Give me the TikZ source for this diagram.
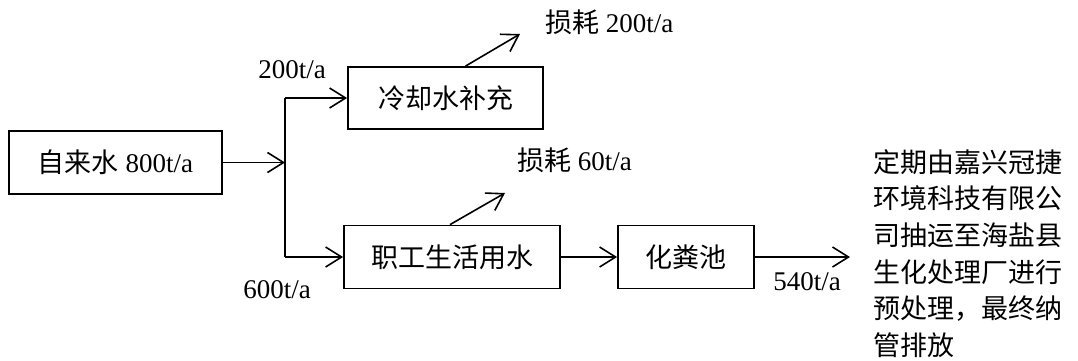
\documentclass[tikz,border=0pt]{standalone}
\usepackage{fontspec}
\setmainfont{Liberation Serif}
\newfontfamily\cjk{Noto Sans CJK SC}
\usetikzlibrary{arrows.meta}
\tikzset{
	flowbox/.style={draw, line width=1.8pt, inner sep=0pt, minimum height=63pt},
	flow/.style={line width=1.6pt, -{Straight Barb[length=16pt, width=20pt, line width=1.6pt]}},
	qty/.style={inner sep=0pt, font=\fontsize{27}{30}\selectfont}
}
\begin{document}
\begin{tikzpicture}[x=1pt, y=-1pt, font=\fontsize{27}{30}\selectfont]
		\useasboundingbox (0,0) rectangle (1078,360);
		%boxes
		\node[flowbox, minimum width=213pt] (src) at (115.5, 162.5){{\cjk 自来水} 800t/a};
		\node[flowbox, minimum width=195pt, minimum height=62pt] (cool) at (445.5, 98){\cjk 冷却水补充};
		\node[flowbox, minimum width=216pt] (staff) at (452, 257){\cjk 职工生活用水};
		\node[flowbox, minimum width=136pt] (tank) at (686, 257){\cjk 化粪池};
		
		%split line
		\coordinate (jt) at (285, 98);
		\coordinate (jb) at (285, 257);
		\draw[line width=1.8pt] (jt) -- (jb);
		\draw[flow] (src.east) -- (src.east -| jt);
		\draw[flow] (jt) -- (cool.west);
		\draw[flow] (jb) -- (staff.west);
		\draw[flow] (staff.east) -- (tank.west);
		
		%losses
		\coordinate (lossA) at (520, 34);
		\coordinate (lossB) at (505, 193);
		\coordinate (out) at (850, 257);
		\draw[flow] ([xshift=20pt]cool.north) -- (lossA);
		\draw[flow] ([xshift=-2pt]staff.north) -- (lossB);
		\draw[flow] (tank.east) -- (out);
		
		%labels
		\node[qty, anchor=west] (lblA) at (545, 22){{\cjk 损耗} 200t/a};
		\node[qty, anchor=west] (lblB) at (517, 160){{\cjk 损耗} 60t/a};
		\node[qty] (top) at (292, 70){200t/a};
		\node[qty] (bot) at (277, 290){600t/a};
		\node[qty] (drain) at (807, 282){540t/a};
		\node[qty, anchor=west, align=left, font=\fontsize{27}{36.7}\cjk] (note) at (873, 253.5){定期由嘉兴冠捷\\环境科技有限公\\司抽运至海盐县\\生化处理厂进行\\预处理，最终纳\\管排放};
		\end{tikzpicture}
\end{document}
